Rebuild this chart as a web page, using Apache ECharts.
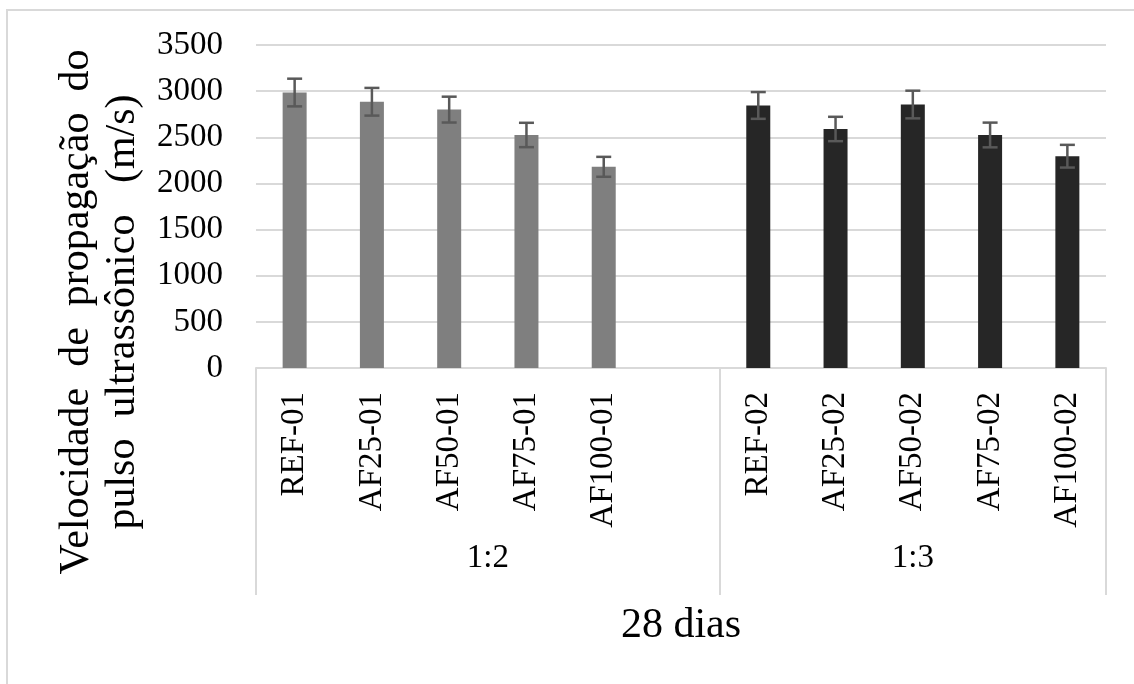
<!DOCTYPE html>
<html>
<head>
<meta charset="utf-8">
<script src="https://cdn.jsdelivr.net/npm/echarts@6/dist/echarts.min.js"></script>
<style>
html,body{margin:0;padding:0;background:#fff;}
#chart{width:1134px;height:684px;}
</style>
</head>
<body>
<div id="chart"></div>
<script>
// ---- data ----
const categories = ['REF-01','AF25-01','AF50-01','AF75-01','AF100-01','','REF-02','AF25-02','AF50-02','AF75-02','AF100-02'];
const values = [2985, 2885, 2800, 2525, 2180, null, 2845, 2590, 2855, 2525, 2295];
const errors = [150, 150, 140, 132, 108, null, 145, 132, 150, 134, 123];
const groupIndex = [0, 0, 0, 0, 0, 0, 1, 1, 1, 1, 1];
const groupLabels = ['1:2', '1:3'];
const groupBounds = [0, 6, 11];
const groupColors = ['#7f7f7f', '#262626'];
const yTicks = { min: 0, max: 3500, interval: 500 };
const xTitle = '28 dias';
const yTitle = 'Velocidade  de  propagação  do\npulso  ultrassônico   (m/s)';

const groupCenters = groupLabels.map((g, i) => (groupBounds[i] + groupBounds[i + 1]) / 2);
const FONT = "'Liberation Serif', 'Times New Roman', serif";
const GRID = '#d9d9d9';

const chart = echarts.init(document.getElementById('chart'), null, { renderer: 'canvas' });

const barData = values.map((v, i) => v == null ? null : {
  value: v,
  itemStyle: { color: groupColors[groupIndex[i]] }
});
const errData = [];
values.forEach((v, i) => { if (v != null) errData.push([i, v, errors[i]]); });

chart.setOption({
  animation: false,
  backgroundColor: '#ffffff',
  grid: { left: 256, right: 28, top: 45, height: 323, containLabel: false },
  xAxis: [
    {
      type: 'category',
      data: categories,
      boundaryGap: true,
      axisLine: { show: true, lineStyle: { color: GRID, width: 2 } },
      axisTick: { show: false },
      axisLabel: {
        rotate: 90, interval: 0, margin: 24,
        fontFamily: FONT, fontSize: 33, color: '#000'
      },
      splitLine: { show: false }
    },
    {
      type: 'value',
      position: 'bottom',
      min: groupBounds[0], max: groupBounds[groupBounds.length - 1],
      axisLine: { show: false },
      axisTick: {
        show: true, inside: false, length: 227,
        customValues: groupBounds,
        lineStyle: { color: GRID, width: 2 }
      },
      axisLabel: {
        show: true, margin: 174,
        customValues: groupCenters,
        formatter: (v) => {
          const k = groupCenters.findIndex(c => Math.abs(c - v) < 1e-6);
          return k >= 0 ? groupLabels[k] : '';
        },
        fontFamily: FONT, fontSize: 33, color: '#000'
      },
      splitLine: { show: false },
      name: xTitle,
      nameLocation: 'middle',
      nameGap: 237,
      nameTextStyle: { fontFamily: FONT, fontSize: 42, color: '#000' }
    }
  ],
  yAxis: {
    type: 'value',
    min: yTicks.min, max: yTicks.max, interval: yTicks.interval,
    axisLine: { show: false },
    axisTick: { show: false },
    axisLabel: {
      margin: 33, fontFamily: FONT, fontSize: 33, color: '#000',
      formatter: (v) => String(v)
    },
    splitLine: { show: true, lineStyle: { color: GRID, width: 2 } }
  },
  graphic: [
    {
      type: 'rect', silent: true, z: -10,
      shape: { x: 7, y: 10, width: 1200, height: 800 },
      style: { fill: 'none', stroke: GRID, lineWidth: 2 }
    },
    {
      type: 'text', silent: true,
      x: 100, y: 312, rotation: Math.PI / 2,
      style: {
        text: yTitle, fontFamily: FONT, fontSize: 42, fill: '#000',
        align: 'center', verticalAlign: 'middle', lineHeight: 46
      }
    }
  ],
  series: [
    {
      type: 'bar',
      xAxisIndex: 0,
      data: barData,
      barWidth: 24
    },
    {
      type: 'custom',
      xAxisIndex: 0,
      z: 5,
      data: errData,
      renderItem: function (params, api) {
        const idx = api.value(0), v = api.value(1), e = api.value(2);
        const top = api.coord([idx, v + e]);
        const bot = api.coord([idx, v - e]);
        const hw = 7.5;
        const st = { stroke: '#595959', lineWidth: 2.5 };
        return {
          type: 'group',
          children: [
            { type: 'line', shape: { x1: top[0], y1: top[1], x2: bot[0], y2: bot[1] }, style: st },
            { type: 'line', shape: { x1: top[0] - hw, y1: top[1], x2: top[0] + hw, y2: top[1] }, style: st },
            { type: 'line', shape: { x1: bot[0] - hw, y1: bot[1], x2: bot[0] + hw, y2: bot[1] }, style: st }
          ]
        };
      }
    }
  ]
});
</script>
</body>
</html>
